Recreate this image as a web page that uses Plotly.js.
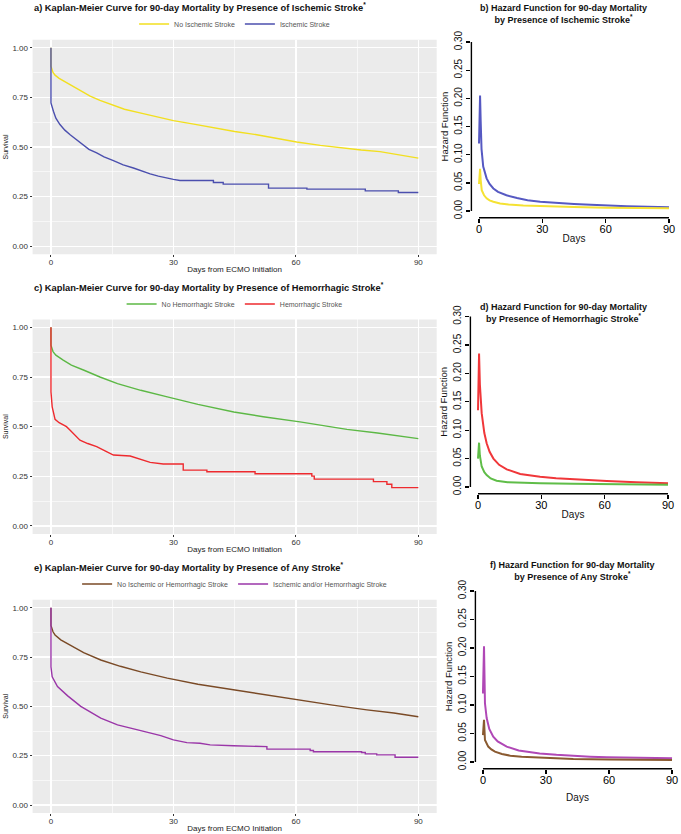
<!DOCTYPE html>
<html>
<head>
<meta charset="utf-8">
<script src="https://cdn.plot.ly/plotly-3.0.1.min.js"></script>
<style>
  html, body { margin: 0; padding: 0; background: #fff; }
  #chart { width: 681px; height: 834px; }
</style>
</head>
<body>
<div id="chart"></div>
<script>
// ---------------- Kaplan-Meier curves (days from ECMO initiation, survival) ----------------
// a) ischemic stroke
var noIschDays = [0, 0, 0.5, 1, 2, 3.3, 4.7, 7, 9.6, 12, 15.3, 18, 21.8, 26, 30, 35, 39.8, 45, 50.4, 55, 60.2, 66, 72.4, 76, 80.6, 85, 90];
var noIschSurv = [1, 0.907, 0.876, 0.862, 0.846, 0.83, 0.814, 0.785, 0.756, 0.735, 0.71, 0.69, 0.672, 0.652, 0.633, 0.615, 0.596, 0.578, 0.562, 0.545, 0.525, 0.508, 0.491, 0.485, 0.477, 0.461, 0.444];
var ischDays = [0, 0, 0.6, 1.2, 2.2, 3.4, 4.7, 6.3, 7.9, 9.3, 11.2, 13, 15.3, 17.7, 20.2, 22.3, 24.3, 26.3, 28.3, 30, 31.6, 39.8, 39.8, 42.2, 42.2, 53.3, 53.3, 62.7, 62.7, 77, 77, 85.1, 85.1, 90];
var ischSurv = [1, 0.722, 0.68, 0.645, 0.613, 0.585, 0.562, 0.535, 0.51, 0.488, 0.47, 0.45, 0.431, 0.41, 0.394, 0.378, 0.365, 0.353, 0.343, 0.337, 0.331, 0.331, 0.321, 0.321, 0.313, 0.313, 0.293, 0.293, 0.288, 0.288, 0.279, 0.279, 0.271, 0.271];

// c) hemorrhagic stroke
var noHemDays = [0, 0, 0.5, 1.2, 3, 5, 8.1, 12, 16.3, 22, 28.5, 36, 44.8, 52, 61, 66, 72.5, 80, 85, 90];
var noHemSurv = [1, 0.91, 0.878, 0.86, 0.835, 0.81, 0.784, 0.75, 0.717, 0.683, 0.65, 0.612, 0.574, 0.55, 0.524, 0.508, 0.486, 0.468, 0.455, 0.44];
var hemDays = [0, 0, 0.3, 1, 2, 3.8, 4.7, 7.1, 9, 11.2, 13, 15.3, 19.4, 21.8, 24.3, 27.5, 32.4, 32.4, 38.2, 38.2, 50, 50, 63.9, 63.9, 64.5, 64.5, 79, 79, 82.3, 82.3, 83.5, 83.5, 90];
var hemSurv = [1, 0.675, 0.6, 0.537, 0.52, 0.5, 0.482, 0.432, 0.415, 0.399, 0.38, 0.357, 0.352, 0.335, 0.32, 0.312, 0.312, 0.281, 0.281, 0.273, 0.273, 0.263, 0.263, 0.251, 0.251, 0.236, 0.236, 0.223, 0.223, 0.21, 0.21, 0.193, 0.193];

// e) any stroke
var noAnyDays = [0, 0, 0.5, 1, 2.4, 5, 8, 12.2, 17, 22, 28.5, 36, 44.8, 52, 61, 69, 77.4, 84, 90];
var noAnySurv = [1, 0.91, 0.878, 0.862, 0.837, 0.805, 0.772, 0.735, 0.703, 0.675, 0.643, 0.612, 0.584, 0.558, 0.53, 0.506, 0.482, 0.466, 0.447];
var anyDays = [0, 0, 0.3, 1.6, 4.1, 7.3, 12.2, 16.3, 22, 26.9, 30, 33.3, 36.5, 39, 44.7, 49.6, 52.9, 52.9, 63.5, 63.5, 64.3, 64.3, 76.1, 76.1, 77, 77, 79.8, 79.8, 84.3, 84.3, 90];
var anySurv = [1, 0.70, 0.65, 0.60, 0.553, 0.50, 0.44, 0.406, 0.377, 0.352, 0.33, 0.316, 0.313, 0.305, 0.3, 0.296, 0.296, 0.283, 0.283, 0.276, 0.276, 0.27, 0.27, 0.266, 0.266, 0.259, 0.259, 0.254, 0.254, 0.242, 0.242];

// ---------------- Hazard functions (days, hazard) ----------------
var hzIschDays = [0, 0.25, 0.5, 0.8, 1.2, 2, 3, 3.6, 5, 6.8, 9, 13, 18, 23, 29, 37, 45, 53, 60, 70, 80, 90];
var hzIsch = [0.12, 0.16, 0.205, 0.16, 0.11, 0.079, 0.065, 0.058, 0.048, 0.04, 0.034, 0.028, 0.023, 0.019, 0.0165, 0.014, 0.0125, 0.011, 0.0095, 0.0083, 0.0074, 0.0066];
var hzNoIschDays = [0, 0.25, 0.5, 0.8, 1.3, 2.4, 3.6, 5, 6.8, 10, 14, 21, 30, 45, 60, 75, 90];
var hzNoIsch = [0.048, 0.062, 0.075, 0.055, 0.037, 0.028, 0.0225, 0.019, 0.0165, 0.0135, 0.0115, 0.01, 0.0085, 0.007, 0.006, 0.0053, 0.0048];

var hzHemDays = [0, 0.25, 0.5, 0.9, 1.75, 3, 4.1, 5.5, 7.3, 10, 13.6, 20, 29.4, 37, 45, 53, 61, 75, 90];
var hzHem = [0.135, 0.19, 0.235, 0.18, 0.13, 0.095, 0.077, 0.062, 0.05, 0.039, 0.031, 0.023, 0.018, 0.0155, 0.0135, 0.012, 0.0106, 0.0085, 0.0065];
var hzNoHemDays = [0, 0.25, 0.5, 0.9, 1.75, 3, 4.1, 6, 8.8, 14, 20, 29.4, 45, 60, 75, 90];
var hzNoHem = [0.05, 0.065, 0.078, 0.055, 0.036, 0.026, 0.021, 0.015, 0.011, 0.0085, 0.0075, 0.0065, 0.0055, 0.0048, 0.0043, 0.004];

var hzAnyDays = [0, 0.25, 0.5, 0.95, 1.76, 3, 4.9, 7, 11.3, 17, 27, 35, 43, 51, 59, 75, 90];
var hzAny = [0.12, 0.165, 0.203, 0.103, 0.077, 0.058, 0.0445, 0.036, 0.027, 0.02, 0.015, 0.0125, 0.0105, 0.0092, 0.0082, 0.0072, 0.0065];
var hzNoAnyDays = [0, 0.25, 0.5, 0.95, 2.5, 4, 5.7, 9, 13, 18.4, 27, 43, 60, 75, 90];
var hzNoAny = [0.047, 0.062, 0.074, 0.0386, 0.027, 0.022, 0.018, 0.014, 0.011, 0.0093, 0.0075, 0.0053, 0.0045, 0.004, 0.0035];

var kmTitles = [
  'a) Kaplan-Meier Curve for 90-day Mortality by Presence of Ischemic Stroke<sup>*</sup>',
  'c) Kaplan-Meier Curve for 90-day Mortality by Presence of Hemorrhagic Stroke<sup>*</sup>',
  'e) Kaplan-Meier Curve for 90-day Mortality by Presence of Any Stroke<sup>*</sup>'
];
var hzTitles = [
  'b) Hazard Function for 90-day Mortality<br>by Presence of Ischemic Stroke<sup>*</sup>',
  'd) Hazard Function for 90-day Mortality<br>by Presence of Hemorrhagic Stroke<sup>*</sup>',
  'f) Hazard Function for 90-day Mortality<br>by Presence of Any Stroke<sup>*</sup>'
];
var groupNames = [
  ['No Ischemic Stroke', 'Ischemic Stroke'],
  ['No Hemorrhagic Stroke', 'Hemorrhagic Stroke'],
  ['No Ischemic or Hemorrhagic Stroke', 'Ischemic and/or Hemorrhagic Stroke']
];

var FONT = 'Liberation Sans, Arial, sans-serif';
var H = 834, W = 681;
function py(p) { return 1 - p / H; }
function px(p) { return p / W; }

// ------------------------------ traces ------------------------------
var traces = [];
function kmLine(x, y, color, name, ax, leg) {
  traces.push({x: x, y: y, type: 'scatter', mode: 'lines', name: name,
    line: {color: color, width: 1.4}, xaxis: 'x' + ax, yaxis: 'y' + ax,
    legend: leg, hoverinfo: 'skip'});
}
function hzLine(x, y, color, ax) {
  traces.push({x: x, y: y, type: 'scatter', mode: 'lines', showlegend: false,
    line: {color: color, width: 2}, xaxis: 'x' + ax, yaxis: 'y' + ax, hoverinfo: 'skip'});
}

kmLine(noIschDays, noIschSurv, '#F2DF1F', groupNames[0][0], '', 'legend');
kmLine(ischDays, ischSurv, '#4B4FAE', groupNames[0][1], '', 'legend');
hzLine(hzIschDays, hzIsch, '#5659C2', '2');
hzLine(hzNoIschDays, hzNoIsch, '#F5E233', '2');

kmLine(noHemDays, noHemSurv, '#5CB845', groupNames[1][0], '3', 'legend2');
kmLine(hemDays, hemSurv, '#EE2A2E', groupNames[1][1], '3', 'legend2');
hzLine(hzHemDays, hzHem, '#F0373A', '4');
hzLine(hzNoHemDays, hzNoHem, '#5FBD48', '4');

kmLine(noAnyDays, noAnySurv, '#7A4A26', groupNames[2][0], '5', 'legend3');
kmLine(anyDays, anySurv, '#9A36A8', groupNames[2][1], '5', 'legend3');
hzLine(hzAnyDays, hzAny, '#B048B6', '6');
hzLine(hzNoAnyDays, hzNoAny, '#8A5A30', '6');

// ------------------------------ layout ------------------------------
var layout = {
  width: W, height: H,
  margin: {l: 0, r: 0, t: 0, b: 0},
  paper_bgcolor: '#fff',
  font: {family: FONT, color: '#222'},
  showlegend: true,
  annotations: [],
  shapes: []
};

var kmXDomain = [px(32.6), px(436.7)];
var kmYDomains = [[py(254.2), py(39.8)], [py(533.9), py(319.4)], [py(812.9), py(599.8)]];
var kmTitleY = [7, 287, 567];
var kmLegendY = [24, 304, 584];
var kmAx = ['', '3', '5'];
var legKeys = ['legend', 'legend2', 'legend3'];

for (var i = 0; i < 3; i++) {
  var xa = 'xaxis' + kmAx[i], ya = 'yaxis' + kmAx[i];
  layout[xa] = {
    domain: kmXDomain, range: [-4.5, 94.5], anchor: 'y' + kmAx[i],
    tick0: 0, dtick: 30, ticks: 'outside', ticklen: 2, tickcolor: '#333', tickwidth: 1,
    ticklabelstandoff: -2,
    tickfont: {size: 8, color: '#333'}, showgrid: true, gridcolor: '#fff', gridwidth: 1.3,
    minor: {dtick: 15, tick0: 0, showgrid: true, gridcolor: '#fff', gridwidth: 0.6},
    zeroline: false, showline: false, automargin: false,
    title: {text: 'Days from ECMO Initiation', font: {size: 8, color: '#222'}, standoff: 0}
  };
  layout[ya] = {
    domain: kmYDomains[i], range: [-0.04, 1.04], anchor: 'x' + kmAx[i],
    tick0: 0, dtick: 0.25, tickformat: '.2f', ticks: 'outside', ticklen: 2, tickcolor: '#333',
    tickfont: {size: 8, color: '#333'}, showgrid: true, gridcolor: '#fff', gridwidth: 1.3,
    minor: {dtick: 0.125, tick0: 0, showgrid: true, gridcolor: '#fff', gridwidth: 0.6},
    zeroline: false, showline: false, automargin: false,
    title: {text: 'Survival', font: {size: 7, color: '#222'}, standoff: 2}
  };
  layout.shapes.push({type: 'rect', xref: 'x' + kmAx[i] + ' domain', yref: 'y' + kmAx[i] + ' domain',
    x0: 0, x1: 1, y0: 0, y1: 1, fillcolor: '#EBEBEB', line: {width: 0}, layer: 'below'});
  layout[legKeys[i]] = {
    orientation: 'h', x: px(234.6), xanchor: 'center', y: py(kmLegendY[i]), yanchor: 'middle',
    font: {size: 7, color: '#555', family: FONT}, bgcolor: 'rgba(0,0,0,0)', itemwidth: 30,
    traceorder: 'normal'
  };
  layout.annotations.push({text: '<b>' + kmTitles[i] + '</b>', xref: 'paper', yref: 'paper',
    x: px(32), y: py(kmTitleY[i]), xanchor: 'left', yanchor: 'middle', showarrow: false,
    font: {size: 9.3, color: '#111', family: FONT}});
}

var hzXDomains = [[px(471.4), px(676.6)], [px(470.4), px(675.6)], [px(475.4), px(679.6)]];
var hzYDomains = [[py(217.8), py(35.3)], [py(493.8), py(309.8)], [py(768.8), py(584.2)]];
var hzTitlePos = [[563, 14], [563, 312.5], [572, 570.5]];
var hzDaysStandoff = [0, 0, 8];
var hzAx = ['2', '4', '6'];

for (var j = 0; j < 3; j++) {
  var n = hzAx[j];
  layout['xaxis' + n] = {
    domain: hzXDomains[j], range: [-3.6, 93.6], anchor: 'y' + n,
    tick0: 0, dtick: 30, ticks: 'outside', ticklen: 4, tickwidth: 1.3, tickcolor: '#000',
    ticklabelstandoff: -3,
    tickfont: {size: 11, color: '#000'}, showgrid: false, zeroline: false, showline: false,
    automargin: false,
    title: {text: 'Days', font: {size: 10, color: '#111'}, standoff: hzDaysStandoff[j]}
  };
  layout['yaxis' + n] = {
    domain: hzYDomains[j], range: [-0.012, 0.312], anchor: 'x' + n,
    tick0: 0, dtick: 0.05, tickformat: '.2f', tickangle: -90, ticks: 'outside', ticklen: 4,
    tickwidth: 1.3, tickcolor: '#000', tickfont: {size: 10, color: '#111'},
    showgrid: false, zeroline: false, showline: false, automargin: false,
    title: {text: 'Hazard Function', font: {size: 9.5, color: '#111'}, standoff: 3}
  };
  // base-R style axis lines spanning first to last tick only
  layout.shapes.push({type: 'line', xref: 'x' + n + ' domain', yref: 'y' + n,
    x0: 0, x1: 0, y0: 0, y1: 0.3, line: {color: '#000', width: 1.4}});
  layout.shapes.push({type: 'line', xref: 'x' + n, yref: 'y' + n + ' domain',
    x0: 0, x1: 90, y0: 0, y1: 0, line: {color: '#000', width: 1.4}});
  layout.annotations.push({text: '<b>' + hzTitles[j] + '</b>', xref: 'paper', yref: 'paper',
    x: px(hzTitlePos[j][0]), y: py(hzTitlePos[j][1]), xanchor: 'center', yanchor: 'middle',
    showarrow: false, font: {size: 9, color: '#111', family: FONT}});
}

Plotly.newPlot('chart', traces, layout, {staticPlot: true, displayModeBar: false});
</script>
</body>
</html>
